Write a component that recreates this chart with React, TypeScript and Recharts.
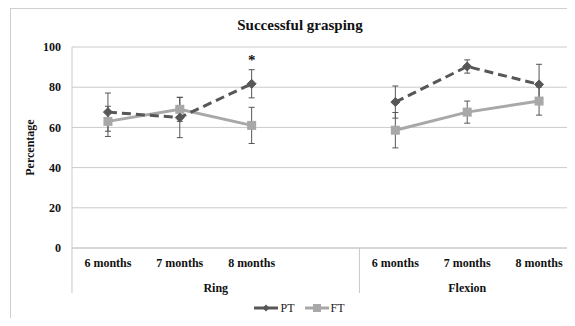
import React from "react";
import {
  LineChart,
  Line,
  XAxis,
  YAxis,
  CartesianGrid,
  ErrorBar,
  Legend,
  LabelList,
} from "recharts";

const months = ["6 months", "7 months", "8 months", "", "6 months", "7 months", "8 months"];
const groups = ["Ring", "Ring", "Ring", "Ring", "Flexion", "Flexion", "Flexion"];
const ptMean = [67.6, 64.9, 81.7, null, 72.6, 90.3, 81.4];
const ptErr = [9.5, 10, 7, null, 8, 3.3, 10];
const ftMean = [63, 69, 61, null, 58.6, 67.6, 73.1];
const ftErr = [7.5, 6, 9, null, 8.8, 5.5, 7];
const sigMarks = ["", "", "*", "", "", "", ""];
const yTicks = [0, 20, 40, 60, 80, 100];

const data = months.map((m, i) => ({
  key: `${groups[i]}-${i}`,
  month: m,
  group: groups[i],
  PT: ptMean[i],
  ptErr: ptErr[i],
  FT: ftMean[i],
  ftErr: ftErr[i],
  sig: sigMarks[i],
}));

const BAND = 71.9;
const FONT = "'Liberation Serif', serif";
const PT_COLOR = "#575757";
const FT_COLOR = "#a8a8a8";

const groupRange = (name: string) => {
  const first = groups.indexOf(name);
  const last = groups.lastIndexOf(name);
  return [first, last];
};

const XTick = (props: any) => {
  const { x, y, index } = props;
  const g = groups[index];
  const [first, last] = groupRange(g);
  const isFirst = index === first;
  return (
    <g>
      {months[index] ? (
        <text
          x={x}
          y={y + 19}
          textAnchor="middle"
          fontFamily={FONT}
          fontWeight="bold"
          fontSize={12}
          fill="#111"
        >
          {months[index]}
        </text>
      ) : null}
      {isFirst ? (
        <>
          <line x1={x - BAND / 2} y1={y} x2={x - BAND / 2} y2={y + 45} stroke="#c8c8c8" strokeWidth={1} />
          <text
            x={x + ((first + last) / 2 - index) * BAND}
            y={y + 44}
            textAnchor="middle"
            fontFamily={FONT}
            fontWeight="bold"
            fontSize={12}
            fill="#111"
          >
            {g}
          </text>
        </>
      ) : null}
    </g>
  );
};

const Diamond = (props: any) => {
  const { cx, cy, value } = props;
  if (value == null || cx == null || cy == null) return null;
  const r = 4.5;
  return (
    <path
      d={`M${cx},${cy - r} L${cx + r},${cy} L${cx},${cy + r} L${cx - r},${cy} Z`}
      fill={PT_COLOR}
      stroke={PT_COLOR}
    />
  );
};

const Square = (props: any) => {
  const { cx, cy, value } = props;
  if (value == null || cx == null || cy == null) return null;
  const s = 4.5;
  return <rect x={cx - s} y={cy - s} width={2 * s} height={2 * s} fill={FT_COLOR} />;
};

const SigLabel = (props: any) => {
  const { x, y, value } = props;
  if (!value) return null;
  return (
    <text x={x} y={y - 19} textAnchor="middle" fontFamily={FONT} fontWeight="bold" fontSize={15} fill="#111">
      {value}
    </text>
  );
};

const LegendContent = () => (
  <div
    style={{
      display: "flex",
      justifyContent: "center",
      alignItems: "center",
      height: 20,
      fontFamily: FONT,
      fontSize: 12,
      color: "#222",
      paddingLeft: 24,
    }}
  >
    <svg width={24} height={10} style={{ marginRight: 2 }}>
      <line x1={0} y1={5} x2={24} y2={5} stroke={PT_COLOR} strokeWidth={3} />
      <path d="M12,1.5 L15.5,5 L12,8.5 L8.5,5 Z" fill={PT_COLOR} />
    </svg>
    <span style={{ marginRight: 10 }}>PT</span>
    <svg width={24} height={10} style={{ marginRight: 2 }}>
      <line x1={0} y1={5} x2={24} y2={5} stroke={FT_COLOR} strokeWidth={3} />
      <rect x={8} y={1} width={8} height={8} fill={FT_COLOR} />
    </svg>
    <span>FT</span>
  </div>
);

export default function App() {
  return (
    <div style={{ margin: -8, width: 575, height: 326, position: "relative", overflow: "hidden", background: "#fff" }}>
      <div
        style={{
          position: "absolute",
          left: 10,
          top: 8,
          width: 620,
          height: 330,
          border: "1px solid #cfcfcf",
          boxSizing: "border-box",
        }}
      />
      <div
        style={{
          position: "absolute",
          left: 0,
          width: 600,
          top: 17,
          textAlign: "center",
          fontFamily: FONT,
          fontWeight: "bold",
          fontSize: 15,
          color: "#111",
        }}
      >
        Successful grasping
      </div>
      <div style={{ position: "absolute", left: 0, top: 0 }}>
        <LineChart
          width={575}
          height={326}
          data={data}
          margin={{ top: 47, right: 0, bottom: 8, left: 0 }}
        >
          <CartesianGrid horizontal vertical={false} stroke="#cacaca" strokeWidth={1} />
          <XAxis
            dataKey="key"
            scale="band"
            interval={0}
            axisLine={{ stroke: "#cacaca" }}
            tickLine={false}
            tickSize={0}
            tickMargin={0}
            height={50}
            tick={<XTick />}
          />
          <YAxis
            domain={[0, 100]}
            ticks={yTicks}
            width={72}
            axisLine={{ stroke: "#cacaca" }}
            tickLine={false}
            tickMargin={5}
            tick={{ fontFamily: FONT, fontWeight: "bold", fontSize: 12, fill: "#111" }}
            label={{
              value: "Percentage",
              angle: -90,
              position: "insideLeft",
              offset: 30,
              style: { fontFamily: FONT, fontWeight: "bold", fontSize: 12, fill: "#111", textAnchor: "middle" },
            }}
          />
          <Legend verticalAlign="bottom" content={<LegendContent />} />
          <Line
            dataKey="FT"
            stroke={FT_COLOR}
            strokeWidth={3}
            dot={<Square />}
            activeDot={false}
            isAnimationActive={false}
          >
            <ErrorBar dataKey="ftErr" direction="y" width={3} stroke="#555" strokeWidth={1} />
          </Line>
          <Line
            dataKey="PT"
            stroke={PT_COLOR}
            strokeWidth={3}
            strokeDasharray="9 5"
            dot={<Diamond />}
            activeDot={false}
            isAnimationActive={false}
          >
            <ErrorBar dataKey="ptErr" direction="y" width={3} stroke="#555" strokeWidth={1} />
            <LabelList dataKey="sig" content={<SigLabel />} />
          </Line>
        </LineChart>
      </div>
    </div>
  );
}
